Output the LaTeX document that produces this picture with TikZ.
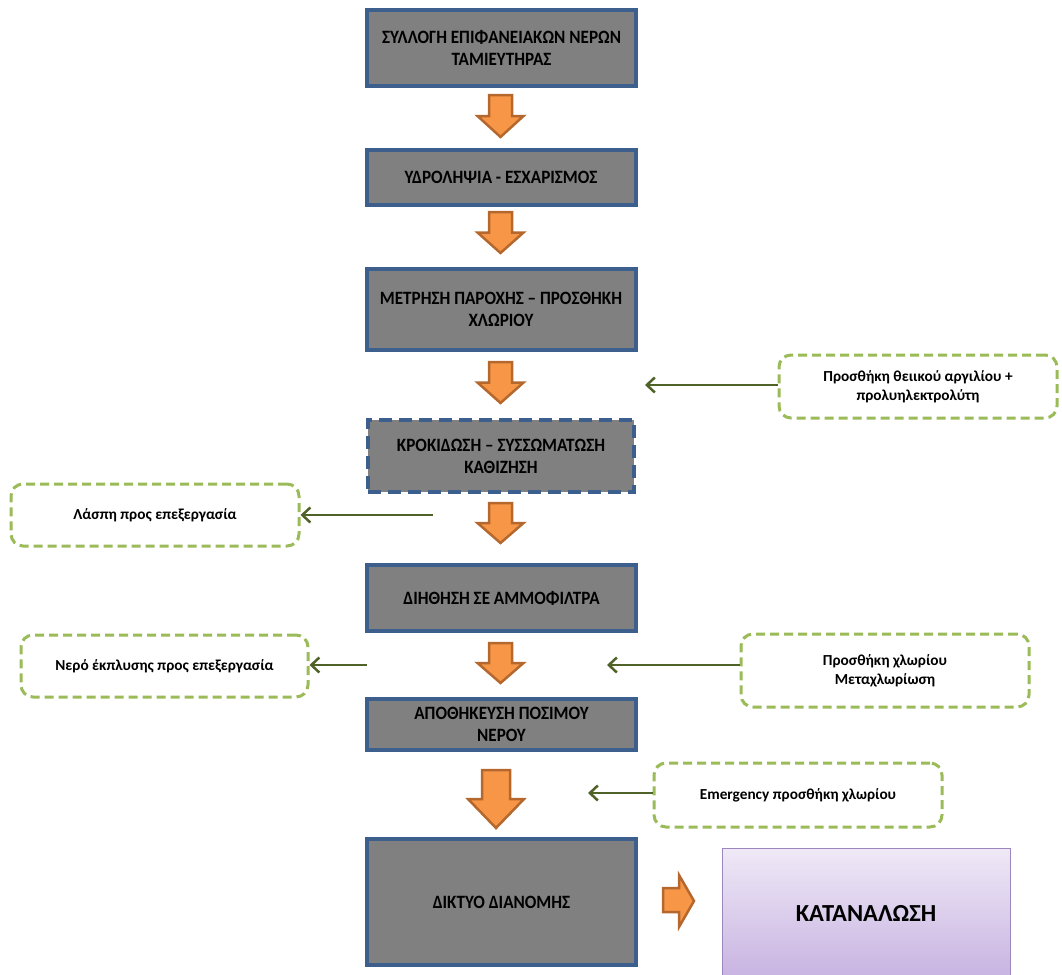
\documentclass[tikz,border=0pt]{standalone}
\usepackage{fontspec}
\setmainfont{Carlito}
\newfontfamily\stagefont{Carlito}[FakeStretch=0.91]
\usetikzlibrary{arrows.meta,calc}
\usepackage{xcolor}
\definecolor{boxgray}{HTML}{808080}
\definecolor{boxblue}{HTML}{3D5F8E}
\definecolor{arrorange}{HTML}{F79646}
\definecolor{arredge}{HTML}{B5682E}
\definecolor{notegreen}{HTML}{9BBB59}
\definecolor{linegreen}{HTML}{4F6228}
\definecolor{lilactop}{HTML}{EFE9F7}
\definecolor{lilacbot}{HTML}{C8B3E1}
\definecolor{lilacedge}{HTML}{9B86BE}

% orange block arrow pointing down: x, top, bottom, shaft half width, head half width
\newcommand{\blockdown}[5]{%
  \draw[blockarr] ({#1-#4},#2) -- ({#1+#4},#2) -- ({#1+#4},{(#2+#3)/2}) -- ({#1+#5},{(#2+#3)/2})
    -- (#1,#3) -- ({#1-#5},{(#2+#3)/2}) -- ({#1-#4},{(#2+#3)/2}) -- cycle;}

\begin{document}
\begin{tikzpicture}[x=1pt, y=-1pt,
  stage/.style={rectangle, draw=boxblue, line width=4pt, fill=boxgray, minimum width=269pt, minimum height=#1,
    align=center, text=black, font=\stagefont\fontsize{18.8}{22}\selectfont\bfseries, inner sep=2pt},
  note/.style={rectangle, rounded corners=12pt, draw=notegreen, line width=3pt, dash pattern=on 9pt off 5pt,
    fill=white, minimum width=288pt, minimum height=#1, align=center, font=\fontsize{15.3}{19}\selectfont\bfseries},
  feed/.style={-{Straight Barb[length=8pt, width=15pt]}, linegreen, line width=2.5pt},
  blockarr/.style={fill=arrorange, draw=arredge, line width=2.5pt, line join=miter}
]
  \useasboundingbox (0,0) rectangle (1062,974);

  % main treatment line
  \node[stage=76pt] (b1) at (501.5,48) {ΣΥΛΛΟΓΗ ΕΠΙΦΑΝΕΙΑΚΩΝ ΝΕΡΩΝ\\ΤΑΜΙΕΥΤΗΡΑΣ};
  \node[stage=55pt] (b2) at (501,177.5) {ΥΔΡΟΛΗΨΙΑ - ΕΣΧΑΡΙΣΜΟΣ};
  \node[stage=81pt] (b3) at (501,309.5) {ΜΕΤΡΗΣΗ ΠΑΡΟΧΗΣ – ΠΡΟΣΘΗΚΗ\\ΧΛΩΡΙΟΥ};
  \node[stage=72pt, minimum width=266pt, dash pattern=on 13pt off 7pt] (b4) at (501,456) {ΚΡΟΚΙΔΩΣΗ – ΣΥΣΣΩΜΑΤΩΣΗ\\ΚΑΘΙΖΗΣΗ};
  \node[stage=66pt] (b5) at (501.5,598) {ΔΙΗΘΗΣΗ ΣΕ ΑΜΜΟΦΙΛΤΡΑ};
  \node[stage=51pt] (b6) at (501.5,724.5) {ΑΠΟΘΗΚΕΥΣΗ ΠΟΣΙΜΟΥ\\ΝΕΡΟΥ};
  \node[stage=126pt] (b7) at (501.5,902) {ΔΙΚΤΥΟ ΔΙΑΝΟΜΗΣ};
  \node[rectangle, draw=lilacedge, line width=1pt, top color=lilactop, bottom color=lilacbot,
    minimum width=288pt, minimum height=130pt, font=\fontsize{24.5}{28}\selectfont\bfseries] (b8) at (866,913) {ΚΑΤΑΝΑΛΩΣΗ};

  % block arrows
  \blockdown{500.5}{95}{137}{11.5}{23}
  \blockdown{500.5}{212}{253}{11.5}{23}
  \blockdown{500.5}{362}{403}{11.5}{23}
  \blockdown{500.5}{503}{543}{11.5}{23}
  \blockdown{500.5}{643}{683}{11.5}{23}
  \blockdown{496}{770}{828}{14}{28}
  \draw[blockarr] (663,888) -- (679,888) -- (679,875) -- (694,901) -- (679,927) -- (679,912) -- (663,912) -- cycle;

  % side notes
  \node[note=63pt, minimum width=278pt] (g1) at (918,386.5) {Προσθήκη θειικού αργιλίου +\\προλυηλεκτρολύτη};
  \node[note=62pt] (g2) at (155,515) {Λάσπη προς επεξεργασία};
  \node[note=62pt, minimum width=287pt] (g3) at (164.5,666) {Νερό έκπλυσης προς επεξεργασία};
  \node[note=73pt] (g4) at (885,670.5) {Προσθήκη χλωρίου\\Μεταχλωρίωση};
  \node[note=64pt] (g5) at (798,795) {Emergency προσθήκη χλωρίου};

  \coordinate (f1) at (645,385);
  \coordinate (s2) at (433,515);
  \coordinate (s3) at (367,665);
  \coordinate (f4) at (607,665);
  \coordinate (f5) at (588,793);

  \draw[feed] (g1.west |- f1) -- (f1);
  \draw[feed] (s2) -- (g2.east |- s2);
  \draw[feed] (s3) -- (g3.east |- s3);
  \draw[feed] (g4.west |- f4) -- (f4);
  \draw[feed] (g5.west |- f5) -- (f5);
\end{tikzpicture}
\end{document}
